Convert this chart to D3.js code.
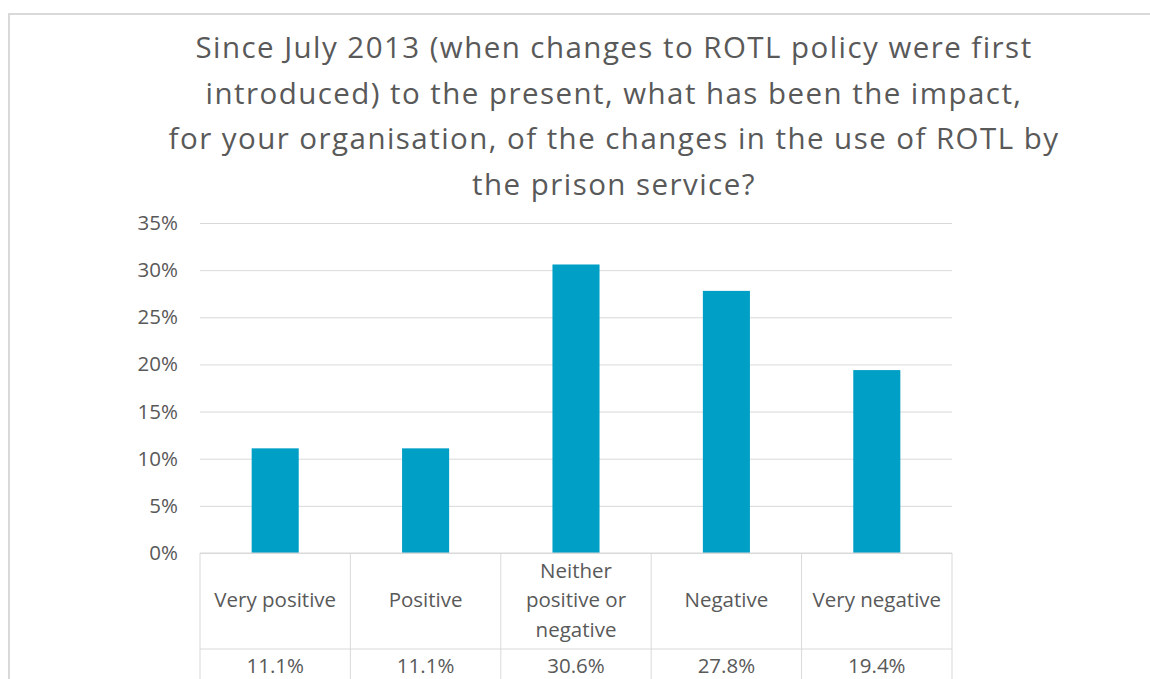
<!DOCTYPE html>
<html>
<head>
<meta charset="utf-8">
<script src="https://cdn.jsdelivr.net/npm/d3@7"></script>
<style>
  html, body { margin: 0; padding: 0; background: #fff; }
  svg { display: block; font-family: "Open Sans", sans-serif; }
</style>
</head>
<body>
<svg id="chart" width="1150" height="679"></svg>
<script>
// Survey responses: impact of ROTL policy changes
const titleLines = [
  "Since July 2013 (when changes to ROTL policy were first",
  "introduced) to the present, what has been the impact,",
  "for your organisation, of the changes in the use of ROTL by",
  "the prison service?"
];
const categories = ["Very positive", "Positive", "Neither positive or negative", "Negative", "Very negative"];
const categoryLines = [["Very positive"], ["Positive"], ["Neither", "positive or", "negative"], ["Negative"], ["Very negative"]];
const values = [0.111, 0.111, 0.306, 0.278, 0.194];
const valueLabels = ["11.1%", "11.1%", "30.6%", "27.8%", "19.4%"];
const yTicks = [0, 0.05, 0.10, 0.15, 0.20, 0.25, 0.30, 0.35];

const svg = d3.select("#chart");
const textColor = "#595959";
const lineColor = "#d9d9d9";
const barColor = "#009fc5";

const plot = { left: 200, right: 952, top: 223, bottom: 553 };

// chart frame
svg.append("path")
  .attr("d", `M9,680 V14 H1151`)
  .attr("fill", "none")
  .attr("stroke", lineColor)
  .attr("stroke-width", 2);

// title
const title = svg.append("text")
  .attr("text-anchor", "middle")
  .attr("fill", textColor)
  .style("font-size", "29.5px")
  .style("letter-spacing", "1.45px");
titleLines.forEach((t, i) => {
  title.append("tspan").attr("x", 614).attr("y", 58 + i * 45.5).text(t);
});

const x = d3.scaleBand().domain(categories).range([plot.left, plot.right]).paddingInner(0).paddingOuter(0);
const y = d3.scaleLinear().domain([0, 0.35]).range([plot.bottom, plot.top]);

// gridlines + y-axis labels
const yAxis = d3.axisLeft(y)
  .tickValues(yTicks)
  .tickFormat(d3.format(".0%"))
  .tickSize(-(plot.right - plot.left))
  .tickPadding(22);
const gy = svg.append("g").attr("transform", `translate(${plot.left},0)`).call(yAxis);
gy.select(".domain").remove();
gy.selectAll(".tick line").attr("stroke", lineColor).attr("stroke-width", 1);
gy.selectAll(".tick text").attr("fill", textColor).style("font-size", "20.5px").style("font-family", "'Open Sans', sans-serif");

// bars
const barW = x.bandwidth() * 0.313;
svg.append("g").selectAll("rect")
  .data(values)
  .join("rect")
  .attr("x", (d, i) => x(categories[i]) + (x.bandwidth() - barW) / 2)
  .attr("y", d => y(d))
  .attr("width", barW)
  .attr("height", d => y(0) - y(d))
  .attr("fill", barColor);

// data table under the axis
const rowDivider = 649;
const tableBottom = 700;
const table = svg.append("g").attr("stroke", lineColor).attr("stroke-width", 1);
table.append("line").attr("x1", plot.left).attr("x2", plot.right).attr("y1", y(0)).attr("y2", y(0));
table.append("line").attr("x1", plot.left).attr("x2", plot.right).attr("y1", rowDivider).attr("y2", rowDivider);
categories.concat([null]).forEach((c, i) => {
  const xx = c === null ? plot.right : x(c);
  table.append("line").attr("x1", xx).attr("x2", xx).attr("y1", y(0)).attr("y2", tableBottom);
});

// category labels
const catText = svg.append("g").attr("fill", textColor).attr("text-anchor", "middle").style("font-size", "20.5px");
categoryLines.forEach((lines, i) => {
  const cx = x(categories[i]) + x.bandwidth() / 2;
  const lh = 29.5;
  const y0 = 607 - (lines.length - 1) * lh / 2;
  const t = catText.append("text");
  lines.forEach((ln, j) => t.append("tspan").attr("x", cx).attr("y", y0 + j * lh).text(ln));
});

// value row
svg.append("g").attr("fill", textColor).attr("text-anchor", "middle").style("font-size", "20.5px")
  .selectAll("text")
  .data(valueLabels)
  .join("text")
  .attr("x", (d, i) => x(categories[i]) + x.bandwidth() / 2)
  .attr("y", 673)
  .text(d => d);
</script>
</body>
</html>
